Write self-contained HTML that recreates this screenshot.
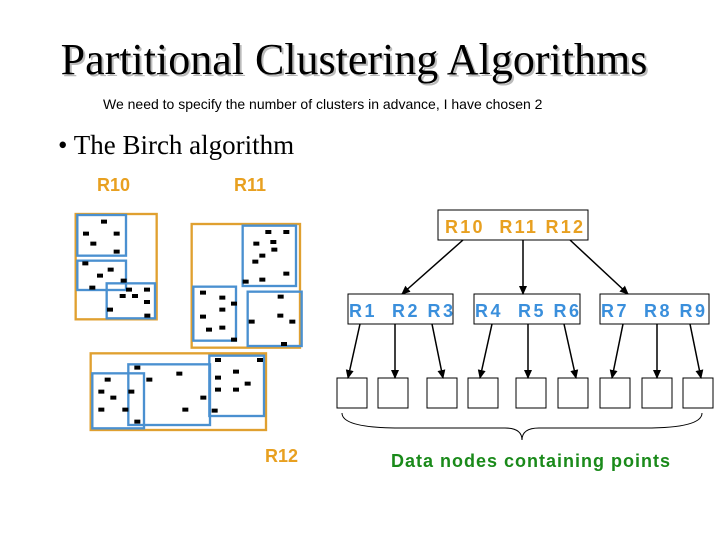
<!DOCTYPE html>
<html><head><meta charset="utf-8"><style>
body{margin:0;width:720px;height:540px;background:#fff;overflow:hidden}
</style></head><body>
<svg width="720" height="540" xmlns="http://www.w3.org/2000/svg">
<defs><marker id="a" markerWidth="10" markerHeight="10" refX="8" refY="5" orient="auto" markerUnits="userSpaceOnUse"><path d="M0,1 L9,5 L0,9 Z" fill="#000"/></marker></defs>
<text x="356" y="76" font-family="Liberation Serif,serif" font-size="44" text-anchor="middle" fill="#bbb">Partitional Clustering Algorithms</text>
<text x="354" y="74" font-family="Liberation Serif,serif" font-size="44" text-anchor="middle" fill="#000">Partitional Clustering Algorithms</text>
<text x="103" y="109" font-family="Liberation Sans,sans-serif" font-size="14">We need to specify the number of clusters in advance, I have chosen 2</text>
<text x="58" y="154" font-family="Liberation Serif,serif" font-size="27">• The Birch algorithm</text>
<g font-family="Liberation Sans,sans-serif" font-size="18" font-weight="bold" fill="#e8a020">
<text x="97" y="191">R10</text><text x="234" y="191">R11</text><text x="265" y="462">R12</text>
<text x="445" y="233" textLength="138">R10&#160;&#160;R11&#160;R12</text></g>
<g font-family="Liberation Sans,sans-serif" font-size="18" font-weight="bold" fill="#3a8fdc">
<text x="349" y="317" textLength="104">R1&#160;&#160;R2&#160;R3</text>
<text x="475" y="317" textLength="104">R4&#160;&#160;R5&#160;R6</text>
<text x="601" y="317" textLength="104">R7&#160;&#160;R8&#160;R9</text></g>
<text x="391" y="467" font-family="Liberation Sans,sans-serif" font-size="18" font-weight="bold" fill="#1a8a1a" textLength="279">Data nodes containing points</text>
<g fill="none" stroke="#000" stroke-width="1">
<rect x="438" y="210" width="150" height="30"/>
<rect x="348" y="294" width="105" height="30"/><rect x="474" y="294" width="106" height="30"/><rect x="600" y="294" width="109" height="30"/>
<rect x="337" y="378" width="30" height="30"/><rect x="378" y="378" width="30" height="30"/><rect x="427" y="378" width="30" height="30"/><rect x="468" y="378" width="30" height="30"/><rect x="516" y="378" width="30" height="30"/><rect x="558" y="378" width="30" height="30"/><rect x="600" y="378" width="30" height="30"/><rect x="642" y="378" width="30" height="30"/><rect x="683" y="378" width="30" height="30"/>
<path d="M342,413 Q342,428 400,428 L505,428 Q522,428 522,440 Q522,428 539,428 L645,428 Q702,428 702,413"/>
</g>
<g stroke="#000" stroke-width="1.5" marker-end="url(#a)">
<line x1="463" y1="240" x2="402" y2="294"/><line x1="523" y1="240" x2="523" y2="294"/><line x1="570" y1="240" x2="628" y2="294"/>
<line x1="360" y1="324" x2="348" y2="378"/><line x1="395" y1="324" x2="395" y2="378"/><line x1="432" y1="324" x2="443" y2="378"/>
<line x1="492" y1="324" x2="480" y2="378"/><line x1="528" y1="324" x2="528" y2="378"/><line x1="564" y1="324" x2="576" y2="378"/>
<line x1="623" y1="324" x2="612" y2="378"/><line x1="657" y1="324" x2="657" y2="378"/><line x1="690" y1="324" x2="701" y2="378"/>
</g>
<g transform="translate(60,200) scale(0.33333)">
<g fill="none" stroke="#e0a030" stroke-width="7">
<rect x="47" y="42" width="243" height="316"/><rect x="395" y="72" width="325" height="371"/><rect x="92" y="460" width="526" height="230"/></g>
<g fill="none" stroke="#4a90d0" stroke-width="7">
<rect x="52" y="45" width="146" height="122"/><rect x="52" y="182" width="146" height="88"/><rect x="140" y="250" width="145" height="105"/>
<rect x="548" y="77" width="160" height="181"/><rect x="400" y="260" width="128" height="162"/><rect x="563" y="275" width="162" height="163"/>
<rect x="97" y="520" width="155" height="165"/><rect x="205" y="493" width="245" height="182"/><rect x="448" y="467" width="164" height="181"/></g>
<g fill="#000">
<path d="M123,59h18v12h-18zM69,95h18v12h-18zM161,95h18v12h-18zM91,125h18v12h-18zM161,149h18v12h-18zM67,184h18v12h-18zM143,203h18v12h-18zM111,221h18v12h-18zM182,236h18v12h-18zM88,257h18v12h-18zM198,263h18v12h-18zM252,263h18v12h-18zM179,282h18v12h-18zM216,282h18v12h-18zM252,300h18v12h-18zM141,323h18v12h-18zM253,341h18v12h-18z"/>
<path d="M616,90h18v12h-18zM670,90h18v12h-18zM580,125h18v12h-18zM631,120h18v12h-18zM634,143h18v12h-18zM598,161h18v12h-18zM577,179h18v12h-18zM670,215h18v12h-18zM548,239h18v12h-18zM598,233h18v12h-18zM420,272h18v12h-18zM478,287h18v12h-18zM513,305h18v12h-18zM478,323h18v12h-18zM420,344h18v12h-18zM438,383h18v12h-18zM478,377h18v12h-18zM513,413h18v12h-18zM653,284h18v12h-18zM566,359h18v12h-18zM652,341h18v12h-18zM688,359h18v12h-18zM663,426h18v12h-18z"/>
<path d="M465,474h18v12h-18zM591,474h18v12h-18zM223,497h18v12h-18zM349,515h18v12h-18zM519,509h18v12h-18zM134,533h18v12h-18zM259,533h18v12h-18zM465,527h18v12h-18zM554,545h18v12h-18zM115,569h18v12h-18zM205,569h18v12h-18zM465,563h18v12h-18zM519,563h18v12h-18zM151,587h18v12h-18zM421,587h18v12h-18zM115,623h18v12h-18zM187,623h18v12h-18zM367,623h18v12h-18zM455,626h18v12h-18zM223,659h18v12h-18z"/>
</g></g>
</svg>
</body></html>
